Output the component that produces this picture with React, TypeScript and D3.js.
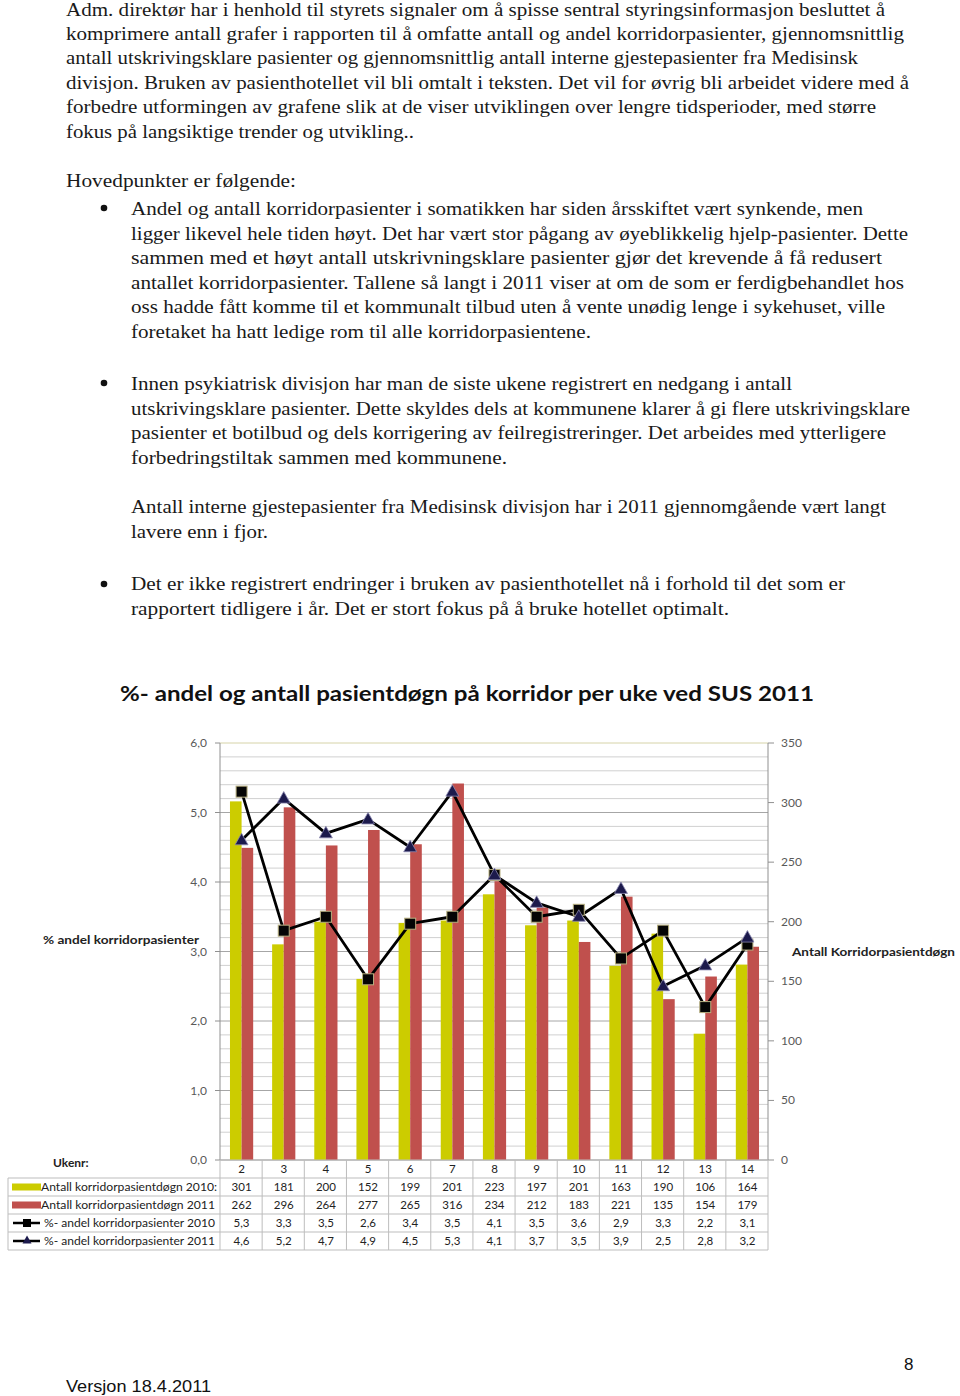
import React, { useEffect } from "react";
import * as d3 from "d3";

// ---- data ----
const weeks = [2, 3, 4, 5, 6, 7, 8, 9, 10, 11, 12, 13, 14];
const count2010 = [301, 181, 200, 152, 199, 201, 223, 197, 201, 163, 190, 106, 164];
const count2011 = [262, 296, 264, 277, 265, 316, 234, 212, 183, 221, 135, 154, 179];
const pct2010 = [5.3, 3.3, 3.5, 2.6, 3.4, 3.5, 4.1, 3.5, 3.6, 2.9, 3.3, 2.2, 3.1];
const pct2011 = [4.6, 5.2, 4.7, 4.9, 4.5, 5.3, 4.1, 3.7, 3.5, 3.9, 2.5, 2.8, 3.2];
const leftTicks = [0, 1, 2, 3, 4, 5, 6];
const rightTicks = [0, 50, 100, 150, 200, 250, 300, 350];

const seriesLabels = [
  "Antall korridorpasientdøgn 2010:",
  "Antall korridorpasientdøgn 2011",
  "%- andel korridorpasienter 2010",
  "%- andel korridorpasienter 2011",
];

// ---- document text: [text, x, baseline, width] ----
const bodyLines: [string, number, number, number][] = [
  ["Adm. direktør har i henhold til styrets signaler om å spisse sentral styringsinformasjon besluttet å", 66, 16, 819],
  ["komprimere antall grafer i rapporten til å omfatte antall og andel korridorpasienter, gjennomsnittlig", 66, 39.5, 838],
  ["antall utskrivingsklare pasienter og gjennomsnittlig antall interne gjestepasienter fra Medisinsk", 66, 64, 792],
  ["divisjon. Bruken av pasienthotellet vil bli omtalt i teksten. Det vil for øvrig bli arbeidet videre med å", 66, 88.5, 843],
  ["forbedre utformingen av grafene slik at de viser utviklingen over lengre tidsperioder, med større", 66, 113, 810],
  ["fokus på langsiktige trender og utvikling..", 66, 137.5, 348],
  ["Hovedpunkter er følgende:", 66, 187, 230],
  ["Andel og antall korridorpasienter i somatikken har siden årsskiftet vært synkende, men", 131, 215, 732],
  ["ligger likevel hele tiden høyt. Det har vært stor pågang av øyeblikkelig hjelp-pasienter. Dette", 131, 239.5, 777],
  ["sammen med et høyt antall utskrivningsklare pasienter gjør det krevende å få redusert", 131, 264, 751],
  ["antallet korridorpasienter. Tallene så langt i 2011 viser at om de som er ferdigbehandlet hos", 131, 288.5, 773],
  ["oss hadde fått komme til et kommunalt tilbud uten å vente unødig lenge i sykehuset, ville", 131, 313, 754],
  ["foretaket ha hatt ledige rom til alle korridorpasientene.", 131, 337.5, 460],
  ["Innen psykiatrisk divisjon har man de siste ukene registrert en nedgang i antall", 131, 390, 661],
  ["utskrivingsklare pasienter. Dette skyldes dels at kommunene klarer å gi flere utskrivingsklare", 131, 414.5, 779],
  ["pasienter et botilbud og dels korrigering av feilregistreringer. Det arbeides med ytterligere", 131, 439, 755],
  ["forbedringstiltak sammen med kommunene.", 131, 463.5, 376],
  ["Antall interne gjestepasienter fra Medisinsk divisjon har i 2011 gjennomgående vært langt", 131, 513, 755],
  ["lavere enn i fjor.", 131, 537.5, 137],
  ["Det er ikke registrert endringer i bruken av pasienthotellet nå i forhold til det som er", 131, 590, 714],
  ["rapportert tidligere i år. Det er stort fokus på å bruke hotellet optimalt.", 131, 614.5, 598],
];
const bulletYs = [208, 383, 584];

const chartTitle = "%- andel og antall pasientdøgn på korridor per uke ved SUS 2011";

const fmt1 = (v: number) => d3.format(".1f")(v).replace(".", ",");

const X0 = 220, X1 = 768, Y0 = 1160, Y1 = 743;
const YELLOW = "#cccc00";
const RED = "#c0504d";
const FONT = "Lato, 'Open Sans', sans-serif";

export default function App() {
  useEffect(() => {
    document.body.style.margin = "0";
  }, []);

  const x = d3.scaleBand<number>().domain(weeks).range([X0, X1]).padding(0);
  const yL = d3.scaleLinear().domain([0, 6]).range([Y0, Y1]);
  const yR = d3.scaleLinear().domain([0, 350]).range([Y0, Y1]);
  const cx = (w: number) => (x(w) as number) + x.bandwidth() / 2 + 0.5;
  const barW = 11.6;

  const minor = d3.range(0, 6.01, 0.2).map((v) => +v.toFixed(1));
  const line = d3.line<number>().x((_, i) => cx(weeks[i])).y((d) => yL(d));

  const rowTops = [1178, 1196, 1214, 1232, 1250];
  const tableLeft = 8;

  return (
    <svg width={960} height={1396} style={{ position: "absolute", left: 0, top: 0, background: "#fff" }}>
      <rect x={0} y={0} width={960} height={1396} fill="#fff" />
      {/* body text */}
      <g fontFamily="'Liberation Serif', 'DejaVu Serif', serif" fontSize={19} fill="#1a1a1a">
        {bodyLines.map(([t, lx, ly, w], i) => (
          <text key={i} x={lx} y={ly} textLength={w} lengthAdjust="spacingAndGlyphs">
            {t}
          </text>
        ))}
      </g>
      {bulletYs.map((by, i) => (
        <circle key={i} cx={104} cy={by} r={3.3} fill="#111" />
      ))}

      {/* title */}
      <text x={120} y={701} fontFamily={FONT} fontWeight={700} fontSize={21} fill="#111" textLength={694} lengthAdjust="spacingAndGlyphs">
        {chartTitle}
      </text>

      {/* gridlines */}
      {minor.map((v, i) => {
        const major = Math.abs(v - Math.round(v)) < 1e-6;
        if (v === 0) return null;
        return (
          <line key={i} x1={X0} x2={X1} y1={yL(v)} y2={yL(v)} stroke={v === 6 ? "#d6d3a8" : major ? "#a6a6a6" : "#d0d0d0"} strokeWidth={1} />
        );
      })}
      {/* axes */}
      <line x1={X0} x2={X0} y1={Y1} y2={Y0} stroke="#909090" />
      <line x1={X1} x2={X1} y1={Y1} y2={Y0} stroke="#909090" />
      <line x1={X0} x2={X1} y1={Y0} y2={Y0} stroke="#909090" />
      {leftTicks.map((t) => (
        <g key={t}>
          <line x1={X0 - 5} x2={X0} y1={yL(t)} y2={yL(t)} stroke="#909090" />
          <text x={207} y={yL(t) + 4} textAnchor="end" fontFamily={FONT} fontSize={12} fill="#595959">
            {fmt1(t)}
          </text>
        </g>
      ))}
      {rightTicks.map((t) => (
        <g key={t}>
          <line x1={X1} x2={X1 + 6} y1={yR(t)} y2={yR(t)} stroke="#909090" />
          <text x={781} y={yR(t) + 4} fontFamily={FONT} fontSize={12} fill="#595959">
            {t}
          </text>
        </g>
      ))}
      <text x={43} y={944} fontFamily={FONT} fontWeight={700} fontSize={11} fill="#222" textLength={156} lengthAdjust="spacingAndGlyphs">
        % andel korridorpasienter
      </text>
      <text x={792} y={956} fontFamily={FONT} fontWeight={700} fontSize={11} fill="#222" textLength={163} lengthAdjust="spacingAndGlyphs">
        Antall Korridorpasientdøgn
      </text>
      <text x={53} y={1167} fontFamily={FONT} fontWeight={700} fontSize={12} fill="#222">
        Ukenr:
      </text>

      {/* bars */}
      {weeks.map((w, i) => (
        <g key={w}>
          <rect x={cx(w) - barW} y={yR(count2010[i])} width={barW} height={Y0 - yR(count2010[i])} fill={YELLOW} />
          <rect x={cx(w)} y={yR(count2011[i])} width={barW} height={Y0 - yR(count2011[i])} fill={RED} />
        </g>
      ))}

      {/* lines */}
      <path d={line(pct2010) || ""} fill="none" stroke="#000" strokeWidth={2.8} strokeLinejoin="round" />
      <path d={line(pct2011) || ""} fill="none" stroke="#000" strokeWidth={2.8} strokeLinejoin="round" />
      {pct2010.map((v, i) => (
        <rect key={i} x={cx(weeks[i]) - 5.5} y={yL(v) - 5.5} width={11} height={11} fill="#050505" stroke="#b8b080" strokeWidth={1} />
      ))}
      {pct2011.map((v, i) => {
        const px = cx(weeks[i]);
        const py = yL(v);
        return (
          <path key={i} d={`M${px},${py - 7}L${px + 6.5},${py + 4.5}L${px - 6.5},${py + 4.5}Z`} fill="#1c1a4c" stroke="#8a88b0" strokeWidth={0.8} />
        );
      })}

      {/* data table */}
      <g stroke="#bdbdbd" strokeWidth={1} fill="none">
        <line x1={X0} x2={X1} y1={Y0} y2={Y0} />
        {rowTops.map((ry, i) => (
          <line key={i} x1={tableLeft} x2={X1} y1={ry} y2={ry} />
        ))}
        <line x1={tableLeft} x2={tableLeft} y1={rowTops[0]} y2={rowTops[4]} />
        {weeks.map((w) => (
          <line key={w} x1={x(w) as number} x2={x(w) as number} y1={Y0} y2={rowTops[4]} />
        ))}
        <line x1={X1} x2={X1} y1={Y0} y2={rowTops[4]} />
      </g>
      <g fontFamily={FONT} fontSize={11.5} fill="#222" textAnchor="middle">
        {weeks.map((w, i) => (
          <g key={w}>
            <text x={cx(w)} y={Y0 + 13}>{w}</text>
            <text x={cx(w)} y={rowTops[0] + 13}>{count2010[i]}</text>
            <text x={cx(w)} y={rowTops[1] + 13}>{count2011[i]}</text>
            <text x={cx(w)} y={rowTops[2] + 13}>{fmt1(pct2010[i])}</text>
            <text x={cx(w)} y={rowTops[3] + 13}>{fmt1(pct2011[i])}</text>
          </g>
        ))}
      </g>
      {/* row headers with legend keys */}
      <rect x={12} y={rowTops[0] + 5.5} width={29} height={7} fill={YELLOW} />
      <rect x={12} y={rowTops[1] + 5.5} width={29} height={7} fill={RED} />
      <line x1={13} x2={40} y1={rowTops[2] + 9} y2={rowTops[2] + 9} stroke="#000" strokeWidth={2.5} />
      <rect x={23} y={rowTops[2] + 5} width={8} height={8} fill="#000" />
      <line x1={13} x2={40} y1={rowTops[3] + 9} y2={rowTops[3] + 9} stroke="#000" strokeWidth={2.5} />
      <path d={`M27,${rowTops[3] + 3.5}L31.5,${rowTops[3] + 11.5}L22.5,${rowTops[3] + 11.5}Z`} fill="#1c1a4c" />
      <g fontFamily={FONT} fontSize={11.5} fill="#222">
        <text x={41} y={rowTops[0] + 13} textLength={176} lengthAdjust="spacingAndGlyphs">{seriesLabels[0]}</text>
        <text x={41} y={rowTops[1] + 13} textLength={174} lengthAdjust="spacingAndGlyphs">{seriesLabels[1]}</text>
        <text x={44} y={rowTops[2] + 13} textLength={171} lengthAdjust="spacingAndGlyphs">{seriesLabels[2]}</text>
        <text x={44} y={rowTops[3] + 13} textLength={171} lengthAdjust="spacingAndGlyphs">{seriesLabels[3]}</text>
      </g>

      {/* footer */}
      <text x={66} y={1392} fontFamily="'Liberation Sans', Arial, sans-serif" fontSize={17} fill="#111" textLength={145} lengthAdjust="spacingAndGlyphs">
        Versjon 18.4.2011
      </text>
      <text x={904} y={1370} fontFamily="'Liberation Sans', Arial, sans-serif" fontSize={17} fill="#111">
        8
      </text>
    </svg>
  );
}
